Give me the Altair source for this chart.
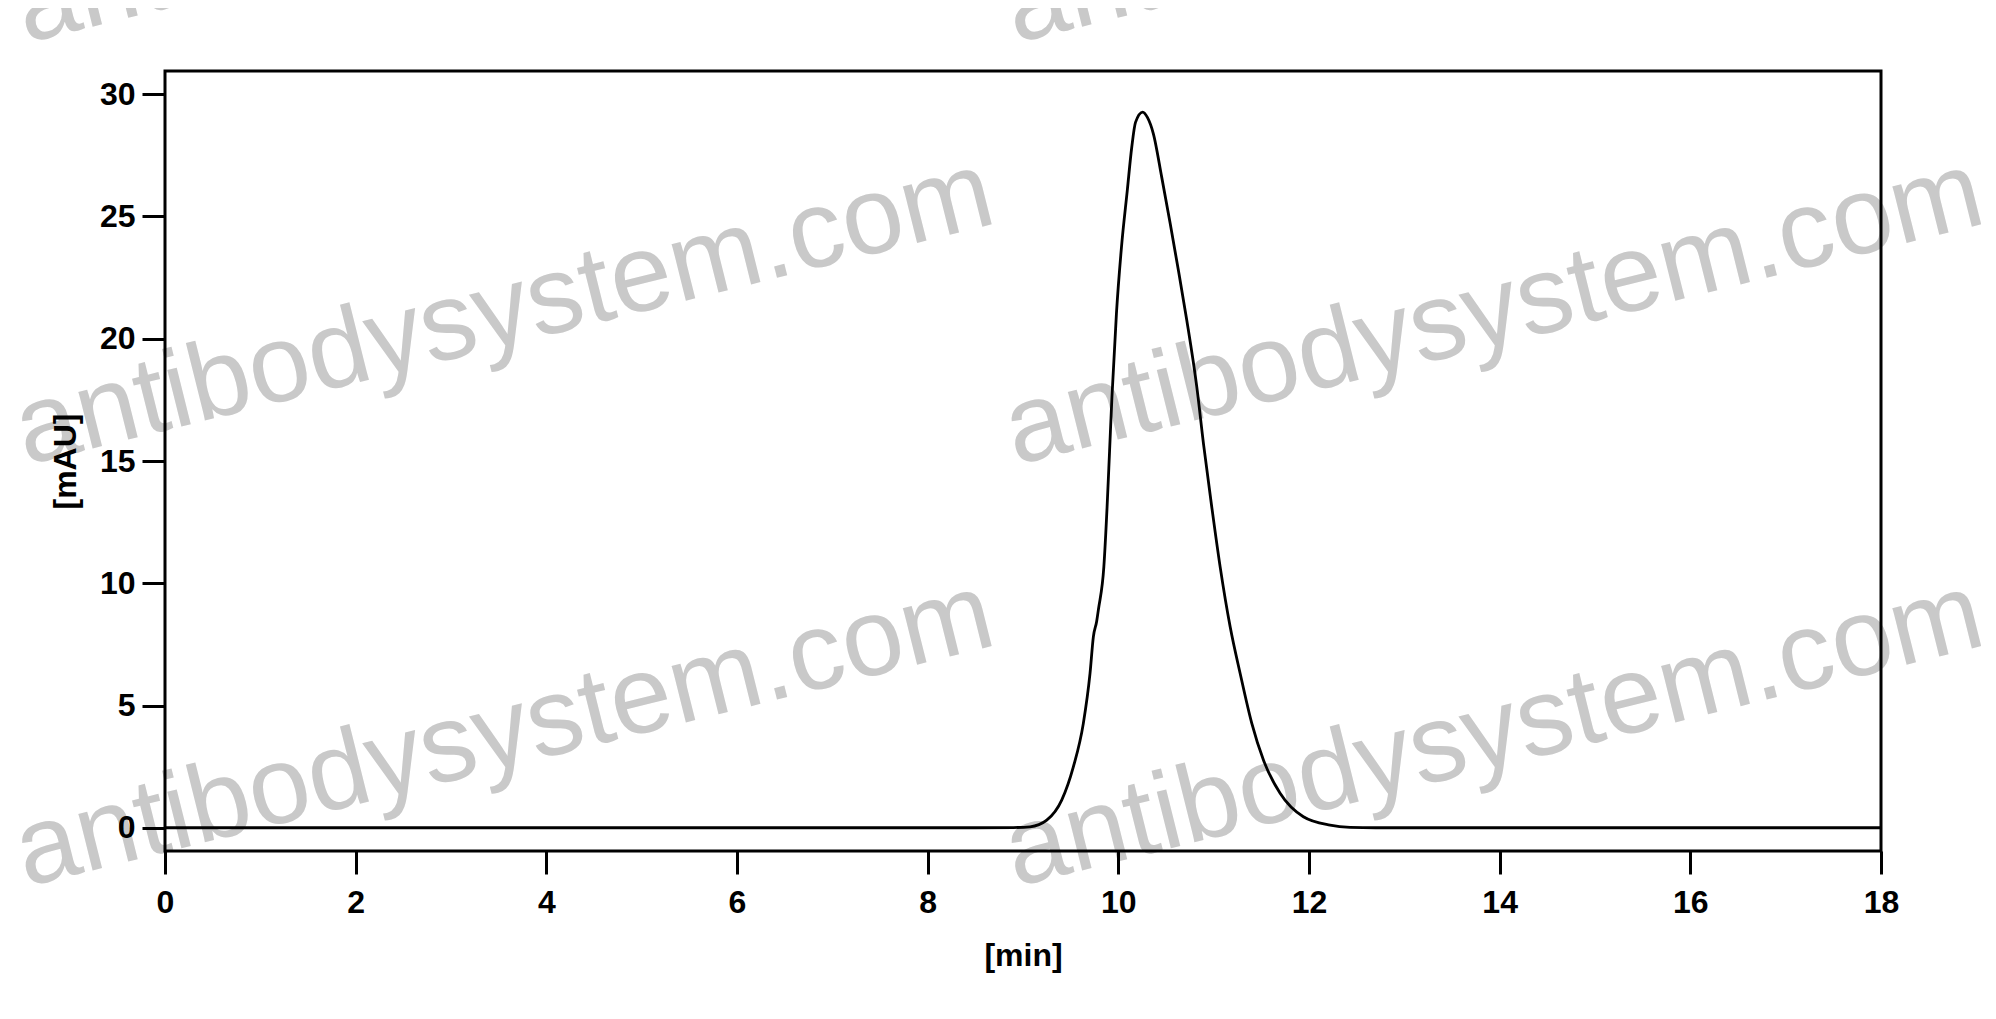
import altair as alt
import pandas as pd

# Chromatogram trace (retention time in min, absorbance in mAU)
time_min = [0.0, 4.0, 8.5, 8.9, 9.074, 9.249, 9.406, 9.528, 9.633, 9.703, 9.738, 9.773,
            9.792, 9.848, 9.882, 9.908, 9.933, 9.980, 10.033, 10.094, 10.141, 10.180,
            10.256, 10.305, 10.367, 10.455, 10.544, 10.630, 10.718, 10.823, 10.895,
            10.980, 11.068, 11.173, 11.278, 11.400, 11.522, 11.697, 11.941, 12.221,
            12.431, 12.7, 14.0, 18.0]
absorbance = [0.0, 0.0, 0.0, 0.01, 0.04, 0.31, 1.13, 2.49, 4.27, 6.31, 7.81, 8.45,
              8.95, 10.67, 13.12, 15.4, 17.62, 21.03, 23.75, 26.07, 27.84, 28.85,
              29.27, 29.05, 28.39, 26.61, 24.71, 22.80, 20.76, 18.03, 15.65,
              13.12, 10.67, 8.22, 6.31, 4.27, 2.77, 1.41, 0.45, 0.11,
              0.02, 0.0, 0.0, 0.0]

x_ticks = [0, 2, 4, 6, 8, 10, 12, 14, 16, 18]
y_ticks = [0, 5, 10, 15, 20, 25, 30]

# Watermark tiling (anchor positions in data units)
wm_text = "antibodysystem.com"
wm_x = [-11.85, -1.46, 8.92]
wm_y = [32.08, 14.83, -2.42, -19.67]

X_DOMAIN = [0, 18]
Y_DOMAIN = [-0.95, 30.95]
W, H = 1716, 780
FONT = "Liberation Sans"

trace = pd.DataFrame({"t": time_min, "a": absorbance})
wm = pd.DataFrame([{"wx": x, "wy": y, "label": wm_text} for x in wm_x for y in wm_y])
frame_df = pd.DataFrame({"k": [0]})

xscale = alt.Scale(domain=X_DOMAIN, nice=False, zero=False)
yscale = alt.Scale(domain=Y_DOMAIN, nice=False, zero=False)

x_axis = alt.Axis(values=x_ticks, title="[min]", labelFlush=False, labelOverlap=False,
                  labelPadding=13, titlePadding=22, zindex=2)
y_axis = alt.Axis(values=y_ticks, title="[mAU]", labelPadding=7, titlePadding=17, zindex=2)

watermark = alt.Chart(wm).mark_text(
    font=FONT, fontSize=110, color="#c9c9c9", angle=346,
    align="left", baseline="alphabetic"
).encode(
    x=alt.X("wx:Q", scale=xscale, axis=x_axis),
    y=alt.Y("wy:Q", scale=yscale, axis=y_axis),
    text="label:N",
)

line = alt.Chart(trace).mark_line(
    color="black", strokeWidth=2.8, interpolate="monotone"
).encode(
    x=alt.X("t:Q", scale=xscale, axis=x_axis),
    y=alt.Y("a:Q", scale=yscale, axis=y_axis),
)

frame = alt.Chart(frame_df).mark_rect(
    filled=False, stroke="black", strokeWidth=3
).encode(
    x=alt.value(0), x2=alt.value(W), y=alt.value(0), y2=alt.value(H)
)

chart = alt.layer(watermark, line, frame).properties(
    width=W, height=H,
    padding={"left": 157, "top": 63, "right": 100, "bottom": 152},
    autosize=alt.AutoSizeParams(type="none"),
    background="white",
).configure_view(
    stroke=None
).configure_axis(
    domain=False, grid=False, ticks=True,
    tickColor="black", tickWidth=3, tickSize=23,
    labelFont=FONT, labelFontSize=32, labelFontWeight="bold", labelColor="black",
    titleFont=FONT, titleFontSize=32, titleFontWeight="bold", titleColor="black",
)

chart.save("out.html", embed_options={"renderer": "svg", "actions": False})
